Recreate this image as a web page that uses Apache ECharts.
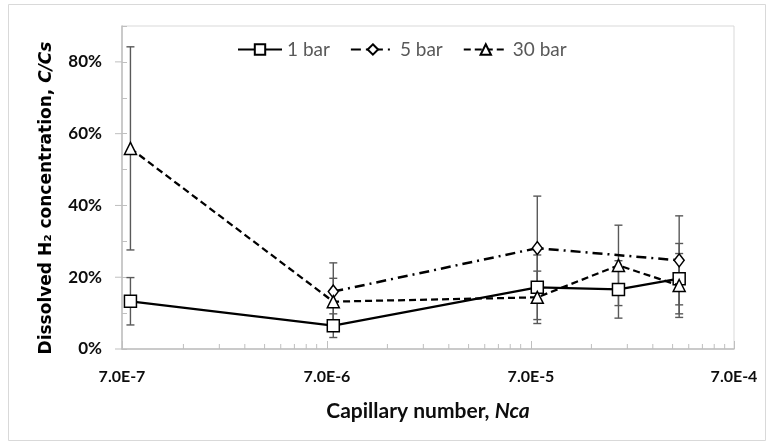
<!DOCTYPE html>
<html>
<head>
<meta charset="utf-8">
<script src="https://cdn.jsdelivr.net/npm/echarts@6/dist/echarts.min.js"></script>
<style>
  html, body { margin: 0; padding: 0; background: #fff; }
  #chart { width: 774px; height: 444px; }
</style>
</head>
<body>
<div id="chart"></div>
<script>
// ---- data (capillary number, concentration in %, error in %) ----
const seriesNames = ['1 bar', '5 bar', '30 bar'];
const nca1 = [7.7e-7, 7.6e-6, 7.6e-5, 1.9e-4, 3.77e-4];
const conc1 = [13.3, 6.5, 17.2, 16.6, 19.6];
const err1 = [6.6, 3.3, 9.0, 8.0, 9.8];
const nca5 = [7.6e-6, 7.6e-5, 3.77e-4];
const conc5 = [16.0, 28.1, 24.7];
const err5 = [8.0, 14.5, 12.4];
const nca30 = [7.7e-7, 7.6e-6, 7.6e-5, 1.9e-4, 3.77e-4];
const conc30 = [55.9, 13.2, 14.4, 23.3, 17.7];
const err30 = [28.3, 6.5, 7.3, 11.2, 8.9];
// axis ticks
const xMin = 7e-7, xMax = 7e-4;
const xMinorTicks = [1.4e-6, 2.1e-6, 2.8e-6, 3.5e-6, 4.2e-6, 4.9e-6, 5.6e-6, 6.3e-6,
                     1.4e-5, 2.1e-5, 2.8e-5, 3.5e-5, 4.2e-5, 4.9e-5, 5.6e-5, 6.3e-5,
                     1.4e-4, 2.1e-4, 2.8e-4, 3.5e-4, 4.2e-4, 4.9e-4, 5.6e-4, 6.3e-4];
const yMajorTicks = [0, 20, 40, 60, 80];
const yMin = 0, yMax = 90;

const pairs = (xs, ys) => xs.map((x, i) => [x, ys[i]]);
const triples = (xs, ys, es) => xs.map((x, i) => [x, ys[i], es[i]]);

const errColor = '#595959';
function errRender(params, api) {
  const x = api.value(0), m = api.value(1), e = api.value(2);
  const hi = api.coord([x, m + e]);
  const lo = api.coord([x, m - e]);
  const w = 4;
  const st = { stroke: errColor, lineWidth: 1.4 };
  return {
    type: 'group',
    children: [
      { type: 'line', shape: { x1: hi[0], y1: hi[1], x2: lo[0], y2: lo[1] }, style: st },
      { type: 'line', shape: { x1: hi[0] - w, y1: hi[1], x2: hi[0] + w, y2: hi[1] }, style: st },
      { type: 'line', shape: { x1: lo[0] - w, y1: lo[1], x2: lo[0] + w, y2: lo[1] }, style: st }
    ]
  };
}
function xMinorRender(params, api) {
  const p = api.coord([api.value(0), yMin]);
  return { type: 'line', shape: { x1: p[0], y1: p[1], x2: p[0], y2: p[1] - 5 },
           style: { stroke: '#bfbfbf', lineWidth: 1 } };
}
function yMajorRender(params, api) {
  const p = api.coord([xMin, api.value(0)]);
  return { type: 'line', shape: { x1: p[0] - 7, y1: p[1], x2: p[0], y2: p[1] },
           style: { stroke: '#bfbfbf', lineWidth: 1 } };
}
// label of a log tick: snap to the decade multiple of xMin
function xLabel(v) {
  const dec = Math.round(Math.log10(v / xMin));
  return (xMin * Math.pow(10, dec)).toExponential(1).toUpperCase();
}

const font = 'Lato, "Open Sans", sans-serif';
const markerStyle = { color: '#fff', borderColor: '#000', borderWidth: 1.5 };

const chart = echarts.init(document.getElementById('chart'), null, { renderer: 'canvas' });
chart.setOption({
  animation: false,
  backgroundColor: '#fff',
  textStyle: { fontFamily: font },
  grid: { left: 122, right: 40, top: 26, bottom: 95, show: true, borderColor: '#d9d9d9', borderWidth: 1 },
  legend: {
    data: seriesNames,
    left: 232, top: 35,
    itemWidth: 44, itemHeight: 13, itemGap: 20,
    textStyle: { color: '#595959', fontSize: 19, fontFamily: font }
  },
  xAxis: {
    type: 'log', logBase: 10, min: xMin, max: xMax, interval: 1,
    axisLine: { show: true, lineStyle: { color: '#bfbfbf', width: 1.5 } },
    axisTick: { show: true, inside: true, length: 8, lineStyle: { color: '#bfbfbf' } },
    axisLabel: {
      margin: 20, color: '#0d0d0d', fontWeight: 'bold', fontSize: 16, fontFamily: font,
      formatter: xLabel
    },
    splitLine: { show: false }, minorSplitLine: { show: false }
  },
  yAxis: {
    type: 'value', min: yMin, max: yMax, interval: 10,
    axisLine: { show: true, lineStyle: { color: '#bfbfbf', width: 1.5 } },
    axisTick: { show: true, inside: true, length: 5, lineStyle: { color: '#bfbfbf' } },
    axisLabel: {
      margin: 20, color: '#0d0d0d', fontWeight: 'bold', fontSize: 17, fontFamily: font,
      formatter: v => (yMajorTicks.indexOf(v) >= 0 ? v + '%' : '')
    },
    splitLine: { show: false }
  },
  graphic: [
    { type: 'rect', shape: { x: 8.5, y: 4.5, width: 757, height: 436 },
      style: { fill: 'none', stroke: '#d9d9d9', lineWidth: 1 }, z: -10, silent: true },
    { type: 'text', x: 47, y: 198, rotation: Math.PI / 2,
      style: {
        text: '{a|Dissolved H₂ concentration, }{b|C/Cs}',
        align: 'center', verticalAlign: 'middle',
        rich: {
          a: { fontFamily: '"DejaVu Sans", sans-serif', fontWeight: 'bold', fontSize: 17, fill: '#000' },
          b: { fontFamily: '"DejaVu Sans", sans-serif', fontWeight: 'bold', fontStyle: 'italic', fontSize: 17, fill: '#000' }
        }
      } },
    { type: 'text', x: 428, y: 411,
      style: {
        text: '{a|Capillary number, }{b|Nca}',
        align: 'center', verticalAlign: 'middle',
        rich: {
          a: { fontFamily: font, fontWeight: 'bold', fontSize: 21, fill: '#0d0d0d' },
          b: { fontFamily: font, fontWeight: 'bold', fontStyle: 'italic', fontSize: 21, fill: '#0d0d0d' }
        }
      } }
  ],
  series: [
    { type: 'custom', name: 'xMinor', data: xMinorTicks.map(v => [v]), renderItem: xMinorRender, silent: true, z: 1, clip: false },
    { type: 'custom', name: 'yMajor', data: yMajorTicks.map(v => [v]), renderItem: yMajorRender, silent: true, z: 1, clip: false },
    { type: 'custom', name: 'err1', data: triples(nca1, conc1, err1), renderItem: errRender, silent: true, z: 1 },
    { type: 'custom', name: 'err5', data: triples(nca5, conc5, err5), renderItem: errRender, silent: true, z: 1 },
    { type: 'custom', name: 'err30', data: triples(nca30, conc30, err30), renderItem: errRender, silent: true, z: 1 },
    { type: 'line', name: '1 bar', data: pairs(nca1, conc1), z: 3,
      symbol: 'rect', symbolSize: 12, itemStyle: markerStyle,
      lineStyle: { color: '#000', width: 2.25, type: 'solid' } },
    { type: 'line', name: '5 bar', data: pairs(nca5, conc5), z: 4,
      symbol: 'diamond', symbolSize: [10, 13], itemStyle: markerStyle,
      lineStyle: { color: '#000', width: 2.5, type: [10, 5, 2, 5] } },
    { type: 'line', name: '30 bar', data: pairs(nca30, conc30), z: 5,
      symbol: 'triangle', symbolSize: 12, itemStyle: markerStyle,
      lineStyle: { color: '#000', width: 2.25, type: [7, 4] } }
  ]
});
</script>
</body>
</html>
